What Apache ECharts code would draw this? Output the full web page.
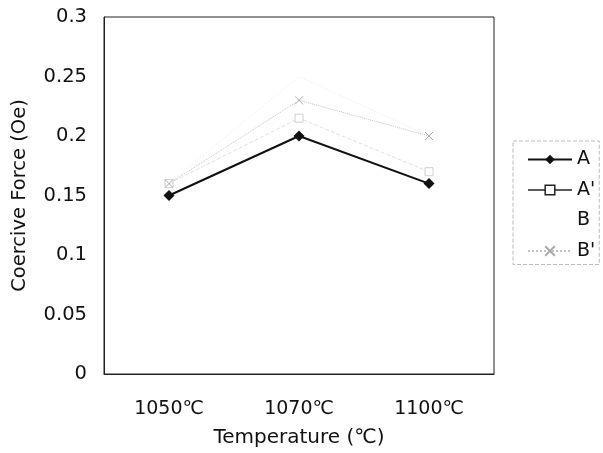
<!DOCTYPE html>
<html><head><meta charset="utf-8">
<script src="https://cdn.jsdelivr.net/npm/echarts@6/dist/echarts.min.js"></script>
<style>html,body{margin:0;padding:0;background:#fff}#c{width:603px;height:453px}</style>
</head><body><div id="c"></div>
<script>
var categories = ['1050℃', '1070℃', '1100℃'];
var seriesA = [0.15, 0.2, 0.16];
var seriesA2 = [0.16, 0.215, 0.17];
var seriesB = [0.16, 0.25, 0.2];
var seriesB2 = [0.16, 0.23, 0.2];
var yTicks = [0, 0.05, 0.1, 0.15, 0.2, 0.25, 0.3];

var font = 'DejaVu Sans, sans-serif';
var chart = echarts.init(document.getElementById('c'));
chart.setOption({
  animation: false,
  backgroundColor: '#fff',
  grid: { left: 104, right: 109, top: 17, bottom: 76, show: true, borderColor: '#222', borderWidth: 1 },
  xAxis: {
    type: 'category', data: categories, boundaryGap: true,
    name: 'Temperature (℃)', nameLocation: 'middle', nameGap: 54,
    nameTextStyle: { fontFamily: font, fontSize: 20, color: '#111' },
    axisLine: { lineStyle: { color: '#222' } }, axisTick: { show: false },
    axisLabel: { fontFamily: font, fontSize: 19, color: '#111', margin: 26 }
  },
  yAxis: {
    type: 'value', min: 0, max: 0.3, interval: 0.05,
    name: 'Coercive Force (Oe)', nameLocation: 'middle', nameGap: 74,
    nameTextStyle: { fontFamily: font, fontSize: 19.5, color: '#111' },
    axisLine: { show: true, lineStyle: { color: '#222' } }, axisTick: { show: false },
    splitLine: { show: false },
    axisLabel: { fontFamily: font, fontSize: 19.5, color: '#111', margin: 17,
      formatter: function (v) { return yTicks.indexOf(+v.toFixed(2)) >= 0 ? String(+v.toFixed(2)) : ''; } }
  },
  legend: {
    orient: 'vertical', left: 513, top: 141,
    padding: [9, 4, 4, 14], itemGap: 11.5, itemWidth: 44, itemHeight: 12,
    borderColor: '#bbb', borderWidth: 1, borderType: 'dashed',
    textStyle: { fontFamily: font, fontSize: 19, color: '#111' },
    data: [
      { name: 'A' },
      { name: "A'", lineStyle: { color: '#222', width: 1.5, type: 'solid' }, itemStyle: { color: '#fff', borderColor: '#222', borderWidth: 1.5 } },
      { name: 'B', icon: 'none' },
      { name: "B'" }
    ]
  },
  series: [
    { name: 'A', type: 'line', data: seriesA, symbol: 'diamond', symbolSize: 11,
      lineStyle: { color: '#111', width: 2 }, itemStyle: { color: '#111' } },
    { name: "A'", type: 'line', data: seriesA2, symbol: 'rect', symbolSize: 8,
      lineStyle: { color: '#e2e2e2', width: 1, type: 'dashed' },
      itemStyle: { color: '#fff', borderColor: '#d0d0d0', borderWidth: 1 } },
    { name: 'B', type: 'line', data: seriesB, symbol: 'none', showSymbol: false,
      lineStyle: { color: '#f0f0f0', width: 1, type: 'dotted' }, itemStyle: { color: '#f0f0f0' } },
    { name: "B'", type: 'line', data: seriesB2, symbol: 'path://M0,0L10,10M10,0L0,10', symbolSize: 8,
      lineStyle: { color: '#c4c4c4', width: 1, type: 'dotted' },
      itemStyle: { color: 'none', borderColor: '#aaa', borderWidth: 1 } }
  ]
});
</script></body></html>
